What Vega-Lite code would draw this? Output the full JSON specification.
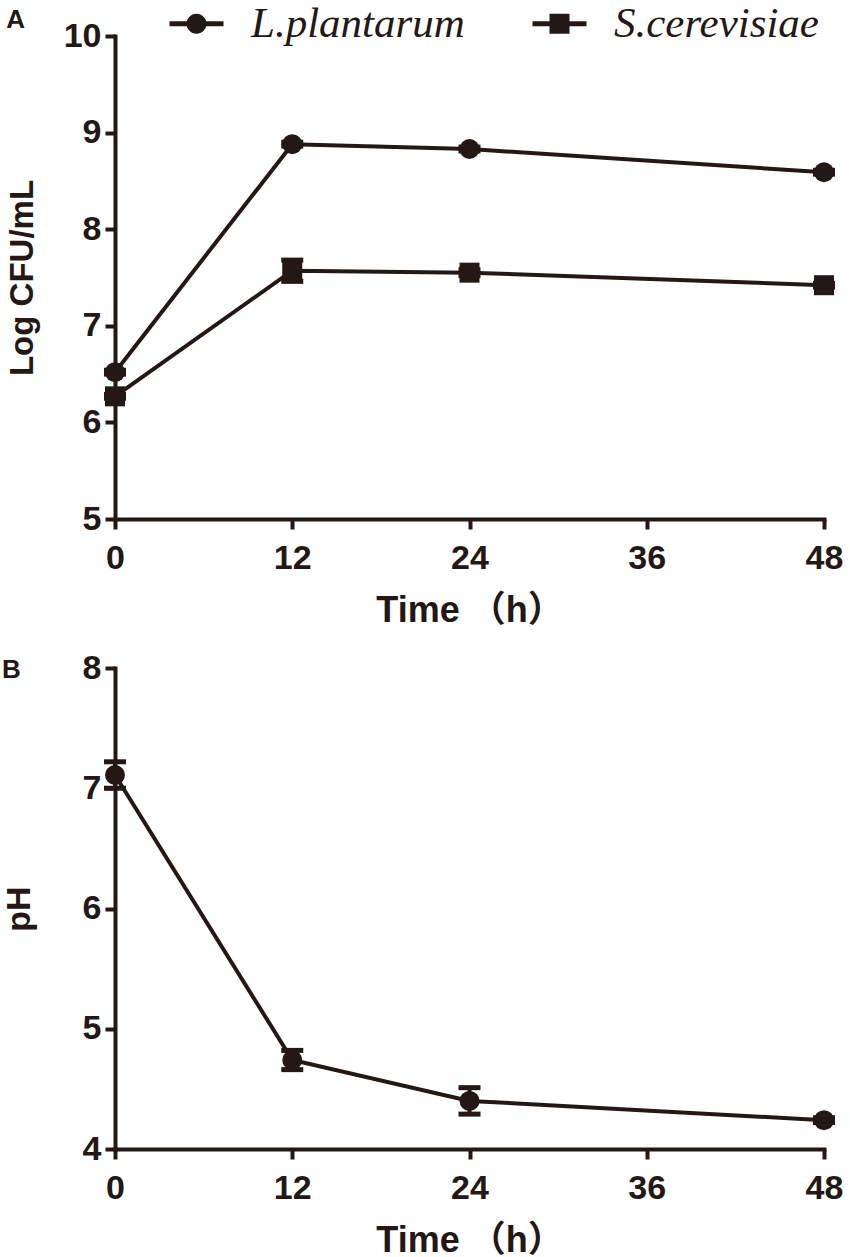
{
  "$schema": "https://vega.github.io/schema/vega-lite/v6.json",
  "padding": {"left": 2, "top": 2, "right": 10, "bottom": 5},
  "background": "white",
  "spacing": 23,
  "config": {
    "view": {"stroke": null},
    "style": {"group-title": {"fontSize": 26, "fontWeight": "bold", "font": "Liberation Sans", "fill": "#231815"}},
    "title": {"fontSize": 26, "fontWeight": "bold", "font": "Liberation Sans", "color": "#231815"},
    "axis": {
      "grid": false,
      "domainColor": "#231815",
      "domainWidth": 4,
      "domainCap": "square",
      "tickColor": "#231815",
      "tickWidth": 4,
      "tickSize": 10,
      "format": "d",
      "labelFont": "Liberation Sans",
      "labelFontWeight": "bold",
      "labelFontSize": 34,
      "labelColor": "#231815",
      "labelPadding": 4,
      "labelFlush": false,
      "labelOverlap": false,
      "titleFont": "Liberation Sans, Noto Sans CJK SC",
      "titleFontWeight": "bold",
      "titleColor": "#231815"
    }
  },
  "datasets": {
    "growth": [
      {"series": "L.plantarum", "time": 0, "value": 6.52, "lo": 6.50, "hi": 6.54},
      {"series": "L.plantarum", "time": 12, "value": 8.88, "lo": 8.86, "hi": 8.90},
      {"series": "L.plantarum", "time": 24, "value": 8.83, "lo": 8.81, "hi": 8.85},
      {"series": "L.plantarum", "time": 48, "value": 8.59, "lo": 8.57, "hi": 8.61},
      {"series": "S.cerevisiae", "time": 0, "value": 6.27, "lo": 6.25, "hi": 6.29},
      {"series": "S.cerevisiae", "time": 12, "value": 7.57, "lo": 7.46, "hi": 7.68},
      {"series": "S.cerevisiae", "time": 24, "value": 7.55, "lo": 7.52, "hi": 7.58},
      {"series": "S.cerevisiae", "time": 48, "value": 7.42, "lo": 7.40, "hi": 7.44}
    ],
    "ph": [
      {"time": 0, "value": 7.11, "lo": 7.00, "hi": 7.22},
      {"time": 12, "value": 4.74, "lo": 4.66, "hi": 4.82},
      {"time": 24, "value": 4.40, "lo": 4.29, "hi": 4.51},
      {"time": 48, "value": 4.24, "lo": 4.22, "hi": 4.26}
    ]
  },
  "vconcat": [
    {
      "width": 709,
      "height": 483,
      "title": {"text": "A", "anchor": "start", "frame": "bounds", "offset": -31, "font": "Liberation Sans", "fontWeight": "bold", "fontSize": 26, "color": "#231815"},
      "data": {"name": "growth"},
      "encoding": {
        "x": {"field": "time", "type": "quantitative", "scale": {"domain": [0, 48]},
              "axis": {"values": [0, 12, 24, 36, 48], "title": "Time （h）", "titleFontSize": 36, "labelPadding": 12, "titlePadding": 18}}
      },
      "resolve": {"scale": {"shape": "independent"}, "legend": {"shape": "independent"}},
      "layer": [
        {
          "mark": {"type": "line", "strokeWidth": 4, "color": "#231815"},
          "encoding": {
            "y": {"field": "value", "type": "quantitative", "title": "Log CFU/mL", "scale": {"domain": [5, 10]},
                  "axis": {"values": [5, 6, 7, 8, 9, 10], "titleFontSize": 33, "titlePadding": 24}},
            "detail": {"field": "series"}
          }
        },
        {
          "mark": {"type": "errorbar", "color": "#231815", "rule": {"strokeWidth": 4, "opacity": 1}, "ticks": {"size": 22, "thickness": 5, "opacity": 1}},
          "encoding": {
            "y": {"field": "lo", "type": "quantitative", "title": "Log CFU/mL"},
            "y2": {"field": "hi"},
            "detail": {"field": "series"}
          }
        },
        {
          "mark": {"type": "point", "filled": true, "size": 400, "opacity": 1, "color": "#231815"},
          "encoding": {
            "y": {"field": "value", "type": "quantitative", "title": "Log CFU/mL"},
            "shape": {
              "field": "series", "type": "nominal",
              "scale": {"domain": ["L.plantarum", "S.cerevisiae"], "range": ["circle", "square"]},
              "legend": null
            }
          }
        },
        {
          "mark": {"type": "point", "filled": true, "size": 400, "opacity": 0, "color": "#231815"},
          "encoding": {
            "y": {"field": "value", "type": "quantitative", "title": "Log CFU/mL"},
            "shape": {
              "field": "series", "type": "nominal",
              "scale": {
                "domain": ["L.plantarum", "S.cerevisiae"],
                "range": [
                  "M-2.7,-0.25L-0.9,-0.25L-0.9,0.25L-2.7,0.25Z M-1,0A1 1 0 1 1 1,0A1 1 0 1 1 -1,0Z M0.9,-0.25L2.7,-0.25L2.7,0.25L0.9,0.25Z",
                  "M-2.7,-0.25L-1,-0.25L-1,0.25L-2.7,0.25Z M-1,-1L1,-1L1,1L-1,1Z M1,-0.25L2.7,-0.25L2.7,0.25L1,0.25Z"
                ]
              },
              "legend": {
                "orient": "none", "legendX": 60, "legendY": -34, "direction": "horizontal",
                "title": null, "padding": 0, "rowPadding": 0, "columnPadding": 67,
                "labelFont": "Liberation Serif", "labelFontStyle": "italic", "labelFontSize": 43,
                "labelColor": "#231815", "labelOffset": 33, "labelLimit": 400,
                "symbolSize": 400, "symbolFillColor": "#231815", "symbolStrokeWidth": 0, "symbolOpacity": 1
              }
            }
          }
        }
      ]
    },
    {
      "width": 709,
      "height": 481,
      "title": {"text": "B", "anchor": "start", "frame": "bounds", "offset": -32, "font": "Liberation Sans", "fontWeight": "bold", "fontSize": 26, "color": "#231815"},
      "data": {"name": "ph"},
      "encoding": {
        "x": {"field": "time", "type": "quantitative", "scale": {"domain": [0, 48]},
              "axis": {"values": [0, 12, 24, 36, 48], "title": "Time （h）", "titleFontSize": 36, "labelPadding": 12, "titlePadding": 18}}
      },
      "layer": [
        {
          "mark": {"type": "line", "strokeWidth": 4, "color": "#231815"},
          "encoding": {
            "y": {"field": "value", "type": "quantitative", "title": "pH", "scale": {"domain": [4, 8]},
                  "axis": {"values": [4, 5, 6, 7, 8], "titleFontSize": 34, "titlePadding": 46}}
          }
        },
        {
          "mark": {"type": "errorbar", "color": "#231815", "rule": {"strokeWidth": 4, "opacity": 1}, "ticks": {"size": 22, "thickness": 5, "opacity": 1}},
          "encoding": {
            "y": {"field": "lo", "type": "quantitative", "title": "pH"},
            "y2": {"field": "hi"}
          }
        },
        {
          "mark": {"type": "point", "filled": true, "size": 400, "opacity": 1, "shape": "circle", "color": "#231815"},
          "encoding": {
            "y": {"field": "value", "type": "quantitative", "title": "pH"}
          }
        }
      ]
    }
  ]
}
